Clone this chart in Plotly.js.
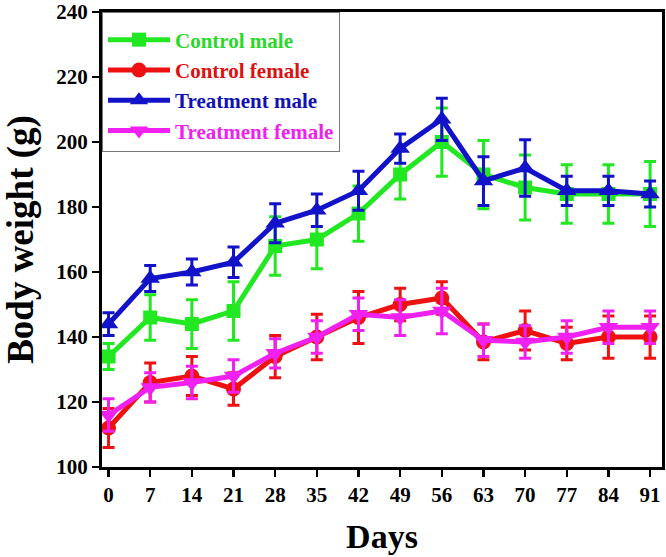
<!DOCTYPE html>
<html>
<head>
<meta charset="utf-8">
<script src="https://cdn.plot.ly/plotly-3.0.1.min.js"></script>
<style>html,body{margin:0;padding:0;background:#fff;}#chart{width:666px;height:557px;}</style>
</head>
<body>
<div id="chart"></div>
<script>
const days = [0, 7, 14, 21, 28, 35, 42, 49, 56, 63, 70, 77, 84, 91];
const controlMale = [134, 146, 144, 148, 168, 170, 178, 190, 200, 190, 186, 184, 184, 184];
const controlMaleErr = [4, 7, 7.5, 9, 9, 9, 8.5, 7.5, 10.5, 10.5, 10, 9, 9, 10];
const controlFemale = [112, 126, 128, 124, 134, 140, 146, 150, 152, 138.5, 142, 138, 140, 140];
const controlFemaleErr = [6, 6, 6, 5, 6.5, 7, 8, 5, 5, 5.5, 6, 5, 6.5, 6.5];
const treatMale = [144, 158, 160, 163, 175, 179, 185, 198, 207, 188, 192, 185, 185, 184];
const treatMaleErr = [3.5, 4, 4, 4.7, 6, 5, 6, 4.5, 6.5, 7.5, 8.7, 4.5, 4.5, 4];
const treatFemale = [116, 124.5, 126, 128, 135, 140, 147, 146, 148, 139, 138.5, 140, 143, 143];
const treatFemaleErr = [5, 4.5, 5, 5, 4.5, 5, 5, 5.5, 7, 5, 5, 5, 5, 5];
const seriesNames = ['Control male', 'Control female', 'Treatment male', 'Treatment female'];
const yTicks = [100, 120, 140, 160, 180, 200, 220, 240];

const colors = ['#22e822', '#ee1111', '#1212c8', '#f020f0'];
const textColors = ['#2ad82a', '#dd1111', '#1212b4', '#ee22ee'];
const symbols = ['square', 'circle', 'triangle-up', 'triangle-down'];
const values = [controlMale, controlFemale, treatMale, treatFemale];
const errs = [controlMaleErr, controlFemaleErr, treatMaleErr, treatFemaleErr];
const sizes = [14, 15, 17, 17];

const traces = values.map((v, i) => ({
  x: days, y: v, type: 'scatter', mode: 'lines+markers',
  name: '<span style="color:' + textColors[i] + '">' + seriesNames[i] + '</span>',
  legendgroup: 'g' + i,
  line: {color: colors[i], width: 5},
  marker: {color: colors[i], symbol: symbols[i], size: sizes[i]},
  error_y: {type: 'data', array: errs[i], visible: true, color: colors[i], thickness: 3, width: 6}
}));

const font = 'Liberation Serif, Times New Roman, serif';
const layout = {
  width: 666, height: 557,
  margin: {l: 102, r: 4, t: 12, b: 90},
  paper_bgcolor: '#fff', plot_bgcolor: '#fff',
  font: {family: font, color: '#000'},
  showlegend: true,
  legend: {
    x: 0, y: 1, xanchor: 'left', yanchor: 'top',
    bgcolor: '#fff', bordercolor: '#777', borderwidth: 1,
    font: {family: font, size: 21, weight: 'bold'},
    title: {text: ' ', font: {size: 5}},
    traceorder: 'grouped', tracegroupgap: 0,
    itemwidth: 62
  },
  xaxis: {
    range: [-1.1, 93], tickvals: days, ticktext: days.map(String),
    showgrid: false, zeroline: false,
    showline: true, linecolor: '#000', linewidth: 3, mirror: true,
    ticks: 'outside', ticklen: 7, tickwidth: 2.5, tickcolor: '#000',
    tickfont: {family: font, size: 21, weight: 'bold'},
    title: {text: 'Days', font: {family: font, size: 34, weight: 'bold'}, standoff: 18}
  },
  yaxis: {
    range: [100, 240], tickvals: yTicks, ticktext: yTicks.map(String),
    showgrid: false, zeroline: false,
    showline: true, linecolor: '#000', linewidth: 3, mirror: true,
    ticks: 'outside', ticklen: 7, tickwidth: 2.5, tickcolor: '#000',
    tickfont: {family: font, size: 21, weight: 'bold'},
    title: {text: 'Body weight (g)\u00a0\u00a0\u00a0\u00a0', font: {family: font, size: 37, weight: 'bold'}, standoff: 14}
  }
};

Plotly.newPlot('chart', traces, layout, {displayModeBar: false, staticPlot: true});
</script>
</body>
</html>
